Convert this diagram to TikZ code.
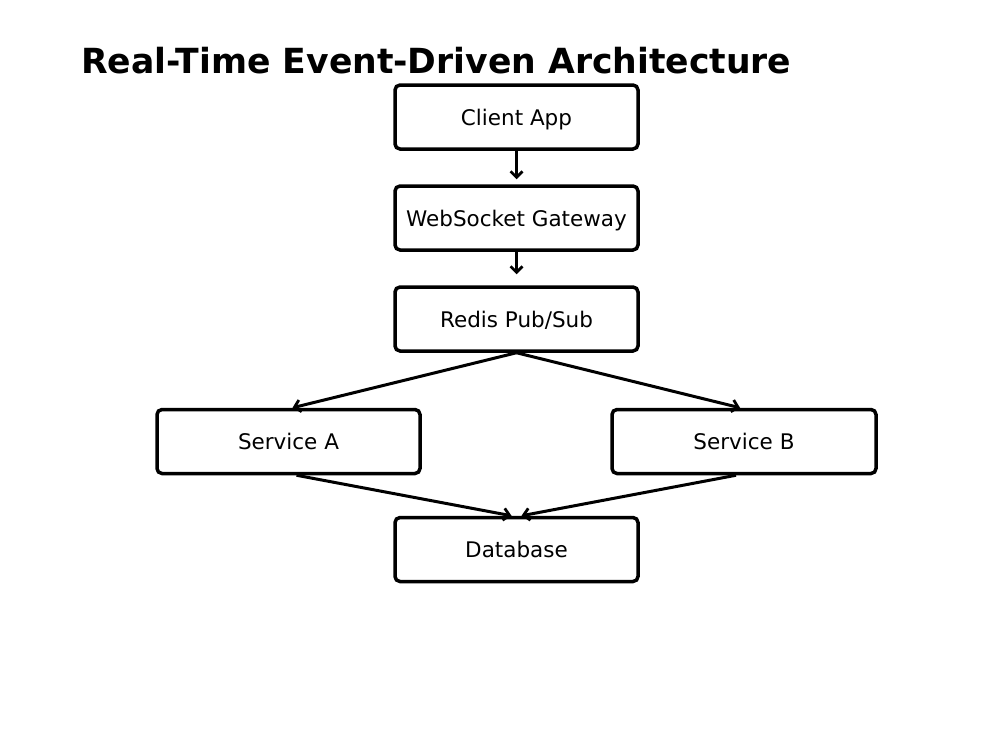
\documentclass[tikz,border=0pt]{standalone}
\usepackage{fontspec}
\setmainfont{DejaVu Sans}
\usetikzlibrary{arrows.meta}
\begin{document}
\begin{tikzpicture}[x=1pt,y=-1pt,
  box/.style={draw=black,line width=3.5pt,rounded corners=5pt,fill=white,inner sep=0pt,
    minimum height=64pt,text depth=0pt,font=\fontsize{21.5}{26}\selectfont},
  conn/.style={line width=3pt,-{Straight Barb[length=6pt,width=12pt,line width=2.8pt]}}]
\useasboundingbox (0,0) rectangle (1000,750);
\node[anchor=base west,font=\bfseries\fontsize{34.6}{42}\selectfont,inner sep=0pt] (title) at (81,73) {Real-Time Event-Driven Architecture};
\node[box,minimum width=243pt] (client) at (516.5,117) {Client App};
\node[box,minimum width=243pt] (ws) at (516.5,218) {WebSocket Gateway};
\node[box,minimum width=243pt] (redis) at (516.5,319) {Redis Pub/Sub};
\node[box,minimum width=263pt] (sa) at (288.5,441.5) {Service A};
\node[box,minimum width=264pt] (sb) at (744,441.5) {Service B};
\node[box,minimum width=243pt] (db) at (516.5,549.5) {Database};
\draw[conn,shorten >=5pt] (client.south) -- (ws.north);
\draw[conn,shorten >=11pt] (ws.south) -- (redis.north);
\draw[conn] (redis.south) -- ([xshift=4pt]sa.north);
\draw[conn] (redis.south) -- ([xshift=-4pt]sb.north);
\draw[conn] ([xshift=8pt]sa.south) -- ([xshift=-5pt]db.north);
\draw[conn] ([xshift=-8pt]sb.south) -- ([xshift=5pt]db.north);
\end{tikzpicture}
\end{document}
